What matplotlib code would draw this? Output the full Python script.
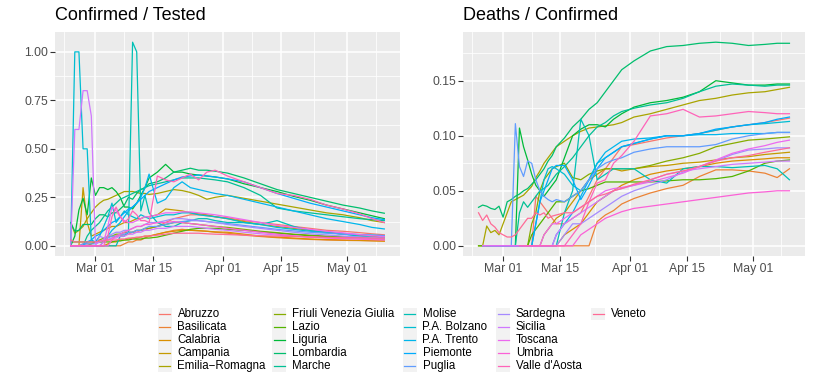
import numpy as np
import matplotlib
matplotlib.use("Agg")
import matplotlib.pyplot as plt
import matplotlib.dates as mdates
from matplotlib.lines import Line2D
from matplotlib.patches import Rectangle
from datetime import date
import math

nan = np.nan

dates = ["2020-02-24", "2020-02-25", "2020-02-26", "2020-02-27", "2020-02-28", "2020-02-29",
         "2020-03-01", "2020-03-02", "2020-03-03", "2020-03-04", "2020-03-05", "2020-03-06",
         "2020-03-07", "2020-03-08", "2020-03-09", "2020-03-10", "2020-03-11", "2020-03-12",
         "2020-03-13", "2020-03-14",
         "2020-03-16", "2020-03-18", "2020-03-20", "2020-03-22", "2020-03-24", "2020-03-26",
         "2020-03-28", "2020-03-30",
         "2020-04-02", "2020-04-06", "2020-04-10", "2020-04-14", "2020-04-18", "2020-04-22",
         "2020-04-26", "2020-04-30", "2020-05-04", "2020-05-07", "2020-05-10"]

regions = ["Abruzzo", "Basilicata", "Calabria", "Campania", "Emilia\u2212Romagna",
           "Friuli Venezia Giulia", "Lazio", "Liguria", "Lombardia", "Marche",
           "Molise", "P.A. Bolzano", "P.A. Trento", "Piemonte", "Puglia",
           "Sardegna", "Sicilia", "Toscana", "Umbria", "Valle d'Aosta", "Veneto"]

# ---------------- Confirmed / Tested ----------------
ct_abruzzo = [0, 0, 0, 0.01, 0.01, 0.01, 0.02, 0.02, 0.03, 0.03, 0.04, 0.05, 0.05, 0.06, 0.06, 0.07, 0.07, 0.08, 0.08, 0.09,
              0.10, 0.12, 0.14, 0.15, 0.16, 0.16, 0.155, 0.15,
              0.145, 0.13, 0.12, 0.11, 0.10, 0.09, 0.08, 0.075, 0.068, 0.062, 0.057]
ct_basilicata = [0, 0, 0, 0, 0, 0, 0, 0, 0, 0, 0, 0, 0, 0.01, 0.02, 0.02, 0.03, 0.03, 0.04, 0.05,
                 0.06, 0.07, 0.08, 0.085, 0.08, 0.078, 0.075, 0.07,
                 0.065, 0.055, 0.048, 0.042, 0.037, 0.033, 0.03, 0.028, 0.027, 0.026, 0.025]
ct_calabria = [0, 0, 0, 0, 0, 0, 0, 0, 0, 0.01, 0.02, 0.02, 0.03, 0.03, 0.035, 0.04, 0.04, 0.045, 0.05, 0.05,
               0.06, 0.07, 0.075, 0.08, 0.08, 0.078, 0.075, 0.072,
               0.07, 0.06, 0.05, 0.045, 0.04, 0.035, 0.032, 0.03, 0.028, 0.026, 0.024]
ct_campania = [0, 0, 0, 0.30, 0.12, 0.05, 0.06, 0.07, 0.08, 0.09, 0.10, 0.10, 0.11, 0.12, 0.12, 0.13, 0.14, 0.14, 0.15, 0.15,
               0.16, 0.19, 0.185, 0.18, 0.17, 0.165, 0.16, 0.15,
               0.14, 0.125, 0.11, 0.10, 0.09, 0.08, 0.07, 0.06, 0.055, 0.05, 0.046]
ct_emilia = [0.12, 0.065, 0.08, 0.10, 0.14, 0.17, 0.20, 0.22, 0.235, 0.24, 0.25, 0.26, 0.27, 0.28, 0.28, 0.28, 0.275, 0.27, 0.27, 0.265,
             0.27, 0.28, 0.29, 0.285, 0.275, 0.26, 0.24, 0.25,
             0.26, 0.245, 0.23, 0.215, 0.20, 0.185, 0.17, 0.16, 0.145, 0.13, 0.12]
ct_fvg = [0, 0, 0, 0, 0, 0.01, 0.02, 0.03, 0.04, 0.05, 0.05, 0.06, 0.06, 0.07, 0.07, 0.07, 0.08, 0.08, 0.09, 0.09,
          0.10, 0.11, 0.12, 0.12, 0.115, 0.11, 0.105, 0.10,
          0.095, 0.085, 0.075, 0.068, 0.06, 0.055, 0.05, 0.047, 0.044, 0.042, 0.04]
ct_lazio = [0.02, 0.02, 0.02, 0.02, 0.02, 0.02, 0.02, 0.02, 0.02, 0.02, 0.02, 0.025, 0.025, 0.03, 0.03, 0.035, 0.035, 0.035, 0.04, 0.04,
            0.045, 0.055, 0.065, 0.075, 0.085, 0.09, 0.09, 0.09,
            0.085, 0.08, 0.072, 0.065, 0.058, 0.052, 0.047, 0.043, 0.04, 0.037, 0.034]
ct_liguria = [0, 0.05, 0.185, 0.245, 0.16, 0.35, 0.26, 0.30, 0.30, 0.29, 0.30, 0.28, 0.25, 0.20, 0.20, 0.19, 0.22, 0.26, 0.30, 0.35,
              0.38, 0.42, 0.38, 0.38, 0.37, 0.365, 0.36, 0.355,
              0.345, 0.32, 0.30, 0.28, 0.255, 0.235, 0.21, 0.19, 0.17, 0.155, 0.14]
ct_lombardia = [0.12, 0.075, 0.08, 0.11, 0.11, 0.11, 0.14, 0.16, 0.16, 0.15, 0.17, 0.17, 0.19, 0.21, 0.25, 0.24, 0.27, 0.29, 0.30, 0.32,
                0.33, 0.35, 0.38, 0.39, 0.40, 0.39, 0.39, 0.385,
                0.375, 0.35, 0.32, 0.29, 0.27, 0.25, 0.23, 0.21, 0.195, 0.18, 0.168]
ct_marche = [0, 0, 0, 0, 0.05, 0.08, 0.10, 0.12, 0.15, 0.18, 0.20, 0.22, 0.24, 0.25, 0.26, 0.27, 0.28, 0.29, 0.30, 0.31,
             0.32, 0.33, 0.34, 0.35, 0.35, 0.35, 0.345, 0.34,
             0.33, 0.30, 0.26, 0.195, 0.18, 0.17, 0.16, 0.15, 0.14, 0.135, 0.13]
ct_molise = [0, 0, 0, 0, 0, 0, 0, 0, 0, 0, 0, 0, 0.05, 0.05, 0.07, 1.05, 1.00, 0.18, 0.26, 0.17,
             0.12, 0.10, 0.10, 0.12, 0.13, 0.14, 0.14, 0.13,
             0.12, 0.12, 0.11, 0.13, 0.10, 0.08, 0.07, 0.06, 0.05, 0.045, 0.04]
ct_bolzano = [0, 1.00, 1.00, 0.50, 0.50, 0.03, 0.02, 0.05, 0.10, 0.15, 0.22, 0.12, 0.15, 0.18, 0.16, 0.15, 0.14, 0.16, 0.15, 0.14,
              0.15, 0.16, 0.16, 0.17, 0.17, 0.16, 0.155, 0.15,
              0.14, 0.12, 0.11, 0.095, 0.085, 0.075, 0.068, 0.062, 0.058, 0.055, 0.052]
ct_trento = [0, 0, 0, 0, 0, 0, 0, 0, 0.02, 0.05, 0.08, 0.10, 0.12, 0.15, 0.18, 0.20, 0.22, 0.25, 0.30, 0.37,
             0.22, 0.24, 0.30, 0.33, 0.30, 0.29, 0.28, 0.27,
             0.26, 0.24, 0.22, 0.20, 0.18, 0.16, 0.14, 0.125, 0.11, 0.095, 0.087]
ct_piemonte = [0, 0, 0, 0, 0.02, 0.03, 0.05, 0.06, 0.08, 0.10, 0.12, 0.13, 0.15, 0.17, 0.19, 0.20, 0.22, 0.24, 0.26, 0.28,
               0.30, 0.32, 0.34, 0.355, 0.36, 0.365, 0.36, 0.355,
               0.345, 0.33, 0.30, 0.27, 0.245, 0.22, 0.20, 0.18, 0.16, 0.145, 0.135]
ct_puglia = [0, 0, 0, 0.01, 0.01, 0.01, 0.01, 0.02, 0.03, 0.04, 0.05, 0.05, 0.06, 0.06, 0.07, 0.07, 0.08, 0.08, 0.09, 0.10,
             0.10, 0.11, 0.12, 0.125, 0.13, 0.13, 0.125, 0.12,
             0.115, 0.105, 0.095, 0.085, 0.077, 0.07, 0.065, 0.06, 0.057, 0.055, 0.053]
ct_sardegna = [0, 0, 0, 0, 0, 0, 0, 0.05, 0.04, 0.05, 0.06, 0.07, 0.07, 0.08, 0.08, 0.09, 0.10, 0.10, 0.11, 0.12,
               0.12, 0.13, 0.14, 0.14, 0.135, 0.13, 0.125, 0.12,
               0.11, 0.10, 0.09, 0.08, 0.07, 0.062, 0.056, 0.05, 0.046, 0.043, 0.04]
ct_sicilia = [0, 0.60, 0.60, 0.80, 0.80, 0.67, 0.01, 0.02, 0.03, 0.03, 0.04, 0.04, 0.05, 0.05, 0.06, 0.06, 0.07, 0.07, 0.08, 0.08,
              0.09, 0.09, 0.10, 0.10, 0.10, 0.095, 0.09, 0.085,
              0.08, 0.07, 0.062, 0.055, 0.05, 0.045, 0.042, 0.04, 0.038, 0.036, 0.035]
ct_toscana = [0, 0, 0, 0, 0, 0, 0, 0, 0.02, 0.10, 0.20, 0.18, 0.15, 0.13, 0.12, 0.12, 0.13, 0.14, 0.15, 0.15,
              0.16, 0.17, 0.17, 0.175, 0.175, 0.17, 0.165, 0.16,
              0.15, 0.135, 0.12, 0.105, 0.095, 0.085, 0.075, 0.067, 0.058, 0.052, 0.047]
ct_umbria = [0, 0, 0, 0, 0, 0, 0, 0, 0, 0, 0.03, 0.05, 0.06, 0.07, 0.08, 0.09, 0.10, 0.10, 0.11, 0.11,
             0.12, 0.12, 0.125, 0.12, 0.115, 0.11, 0.105, 0.10,
             0.09, 0.08, 0.07, 0.06, 0.052, 0.045, 0.04, 0.037, 0.034, 0.032, 0.03]
ct_vda = [0, 0, 0, 0, 0, 0, 0, 0, 0, 0.05, 0.15, 0.20, 0.15, 0.12, 0.14, 0.18, 0.16, 0.13, 0.13, 0.12,
          0.36, 0.34, 0.33, 0.35, 0.37, 0.34, 0.38, 0.39,
          0.36, 0.33, 0.30, 0.27, 0.26, 0.24, 0.21, 0.19, 0.165, 0.14, 0.12]
ct_veneto = [0.03, 0.02, 0.02, 0.02, 0.02, 0.02, 0.02, 0.025, 0.025, 0.03, 0.03, 0.03, 0.035, 0.035, 0.04, 0.04, 0.045, 0.045, 0.05, 0.05,
             0.055, 0.06, 0.065, 0.065, 0.065, 0.065, 0.062, 0.06,
             0.058, 0.055, 0.052, 0.05, 0.048, 0.046, 0.044, 0.042, 0.041, 0.04, 0.039]

# ---------------- Deaths / Confirmed ----------------
dc_abruzzo = [nan, nan, nan, 0, 0, 0, 0, 0, 0, 0, 0, 0, 0, 0, 0.045, 0.04, 0.035, 0.03, 0.025, 0.02,
              0.02, 0.025, 0.03, 0.045, 0.06, 0.07, 0.08, 0.09,
              0.092, 0.095, 0.098, 0.10, 0.102, 0.105, 0.108, 0.11, 0.112, 0.114, 0.116]
dc_basilicata = [nan, nan, nan, nan, nan, nan, nan, nan, nan, 0, 0, 0, 0, 0, 0, 0, 0, 0, 0, 0,
                 0, 0, 0, 0, 0.022, 0.028, 0.032, 0.038,
                 0.043, 0.048, 0.052, 0.055, 0.063, 0.069, 0.069, 0.068, 0.066, 0.062, 0.07]
dc_calabria = [nan, nan, nan, nan, nan, nan, nan, nan, nan, nan, 0, 0, 0, 0, 0, 0, 0, 0, 0, 0,
               0.01, 0.015, 0.02, 0.03, 0.04, 0.045, 0.05, 0.055,
               0.06, 0.065, 0.068, 0.07, 0.072, 0.075, 0.077, 0.078, 0.079, 0.08, 0.08]
dc_campania = [nan, nan, nan, 0, 0, 0, 0, 0, 0, 0, 0, 0, 0, 0, 0, 0, 0.01, 0.015, 0.02, 0.025,
               0.03, 0.04, 0.05, 0.06, 0.065, 0.07, 0.07, 0.068,
               0.07, 0.072, 0.073, 0.075, 0.076, 0.078, 0.08, 0.081, 0.083, 0.084, 0.085]
dc_emilia = [0, 0, 0.018, 0.012, 0.014, 0.01, 0.02, 0.03, 0.04, 0.042, 0.044, 0.046, 0.05, 0.054, 0.062, 0.068, 0.075, 0.08, 0.085, 0.09,
             0.095, 0.10, 0.104, 0.107, 0.108, 0.109, 0.11, 0.112,
             0.117, 0.12, 0.124, 0.128, 0.132, 0.134, 0.137, 0.139, 0.14, 0.142, 0.144]
dc_fvg = [nan, nan, nan, nan, nan, 0, 0, 0, 0, 0, 0, 0, 0, 0.02, 0.03, 0.05, 0.06, 0.065, 0.07, 0.072,
          0.075, 0.062, 0.06, 0.065, 0.068, 0.07, 0.07, 0.07,
          0.07, 0.073, 0.077, 0.08, 0.084, 0.09, 0.093, 0.096, 0.097, 0.098, 0.099]
dc_lazio = [0, 0, 0, 0, 0, 0, 0, 0, 0, 0, 0, 0, 0, 0.01, 0.015, 0.02, 0.025, 0.03, 0.035, 0.04,
            0.04, 0.045, 0.05, 0.052, 0.055, 0.058, 0.058, 0.058,
            0.058, 0.058, 0.059, 0.06, 0.06, 0.061, 0.063, 0.068, 0.075, 0.077, 0.078]
dc_liguria = [nan, 0, 0, 0, 0, 0, 0, 0, 0, 0, 0.107, 0.09, 0.078, 0.065, 0.055, 0.05, 0.045, 0.05, 0.055, 0.06,
              0.08, 0.10, 0.106, 0.11, 0.11, 0.108, 0.115, 0.12,
              0.126, 0.13, 0.132, 0.135, 0.14, 0.15, 0.148, 0.146, 0.146, 0.147, 0.147]
dc_lombardia = [0.035, 0.037, 0.036, 0.034, 0.033, 0.036, 0.026, 0.04, 0.042, 0.045, 0.047, 0.05, 0.052, 0.056, 0.06, 0.065, 0.07, 0.077, 0.082, 0.09,
                0.098, 0.108, 0.115, 0.124, 0.13, 0.14, 0.15, 0.16,
                0.168, 0.177, 0.181, 0.182, 0.184, 0.185, 0.184, 0.182, 0.183, 0.184, 0.184]
dc_marche = [nan, nan, 0, 0, 0, 0, 0, 0, 0, 0, 0.03, 0.04, 0.035, 0.04, 0.045, 0.05, 0.052, 0.055, 0.06, 0.065,
             0.072, 0.08, 0.09, 0.10, 0.108, 0.112, 0.118, 0.122,
             0.125, 0.128, 0.13, 0.134, 0.14, 0.145, 0.147, 0.146, 0.145, 0.146, 0.146]
dc_molise = [nan, nan, nan, nan, nan, nan, nan, nan, nan, nan, nan, nan, 0, 0, 0, 0, 0, 0, 0, 0,
             0.03, 0.05, 0.115, 0.10, 0.06, 0.065, 0.07, 0.07,
             0.07, 0.06, 0.057, 0.07, 0.072, 0.072, 0.071, 0.072, 0.073, 0.07, 0.06]
dc_bolzano = [nan, 0, 0, 0, 0, 0, 0, 0, 0, 0, 0, 0, 0, 0, 0.02, 0.04, 0.06, 0.07, 0.072, 0.07,
              0.065, 0.055, 0.05, 0.06, 0.075, 0.08, 0.085, 0.09,
              0.093, 0.097, 0.10, 0.10, 0.102, 0.105, 0.108, 0.11, 0.111, 0.112, 0.113]
dc_trento = [nan, nan, nan, nan, nan, nan, nan, nan, nan, 0, 0, 0, 0, 0, 0, 0, 0, 0, 0, 0.01,
             0.02, 0.03, 0.045, 0.06, 0.075, 0.085, 0.09, 0.095,
             0.097, 0.098, 0.10, 0.10, 0.101, 0.101, 0.102, 0.102, 0.102, 0.103, 0.103]
dc_piemonte = [nan, nan, nan, 0, 0, 0, 0, 0, 0, 0, 0, 0, 0, 0, 0.02, 0.04, 0.05, 0.06, 0.07, 0.073,
               0.073, 0.06, 0.042, 0.055, 0.07, 0.08, 0.085, 0.09,
               0.093, 0.097, 0.10, 0.10, 0.102, 0.106, 0.108, 0.11, 0.112, 0.115, 0.117]
dc_puglia = [nan, nan, nan, 0, 0, 0, 0, 0, 0, 0.111, 0.072, 0.063, 0.077, 0.075, 0.06, 0.05, 0.045, 0.042, 0.04, 0.042,
             0.04, 0.045, 0.05, 0.06, 0.07, 0.075, 0.078, 0.08,
             0.085, 0.088, 0.09, 0.09, 0.09, 0.092, 0.097, 0.10, 0.102, 0.103, 0.103]
dc_sardegna = [nan, nan, nan, nan, nan, nan, nan, nan, 0, 0, 0, 0, 0, 0, 0, 0, 0, 0, 0, 0,
               0.01, 0.02, 0.02, 0.025, 0.03, 0.035, 0.04, 0.045,
               0.05, 0.055, 0.06, 0.067, 0.072, 0.077, 0.083, 0.087, 0.088, 0.089, 0.089]
dc_sicilia = [nan, 0, 0, 0, 0, 0, 0, 0, 0, 0, 0, 0, 0, 0, 0, 0, 0, 0, 0, 0.01,
              0.02, 0.025, 0.03, 0.035, 0.04, 0.045, 0.05, 0.052,
              0.055, 0.06, 0.065, 0.068, 0.07, 0.072, 0.074, 0.075, 0.076, 0.077, 0.077]
dc_toscana = [nan, 0, 0, 0, 0, 0, 0, 0, 0, 0, 0, 0, 0, 0, 0, 0, 0.01, 0.015, 0.02, 0.02,
              0.025, 0.03, 0.035, 0.04, 0.045, 0.05, 0.052, 0.053,
              0.055, 0.058, 0.062, 0.066, 0.072, 0.078, 0.084, 0.088, 0.091, 0.094, 0.096]
dc_umbria = [nan, nan, nan, nan, nan, nan, nan, nan, nan, nan, nan, 0, 0, 0, 0, 0, 0, 0, 0, 0,
             0, 0, 0.01, 0.015, 0.02, 0.025, 0.028, 0.031,
             0.034, 0.036, 0.038, 0.04, 0.042, 0.044, 0.046, 0.048, 0.049, 0.05, 0.05]
dc_vda = [nan, nan, nan, nan, nan, nan, nan, nan, nan, nan, 0, 0, 0, 0, 0, 0, 0, 0, 0, 0,
          0, 0.01, 0.02, 0.04, 0.057, 0.06, 0.075, 0.082,
          0.095, 0.118, 0.12, 0.124, 0.117, 0.118, 0.12, 0.122, 0.121, 0.12, 0.12]
dc_veneto = [0.03, 0.023, 0.028, 0.02, 0.017, 0.012, 0.01, 0.008, 0.008, 0.01, 0.015, 0.02, 0.025, 0.025, 0.03, 0.028, 0.03, 0.025, 0.027, 0.028,
             0.03, 0.03, 0.035, 0.04, 0.045, 0.047, 0.05, 0.052,
             0.056, 0.06, 0.065, 0.068, 0.072, 0.077, 0.08, 0.082, 0.085, 0.087, 0.089]

ct_series = [ct_abruzzo, ct_basilicata, ct_calabria, ct_campania, ct_emilia, ct_fvg, ct_lazio,
             ct_liguria, ct_lombardia, ct_marche, ct_molise, ct_bolzano, ct_trento, ct_piemonte,
             ct_puglia, ct_sardegna, ct_sicilia, ct_toscana, ct_umbria, ct_vda, ct_veneto]
dc_series = [dc_abruzzo, dc_basilicata, dc_calabria, dc_campania, dc_emilia, dc_fvg, dc_lazio,
             dc_liguria, dc_lombardia, dc_marche, dc_molise, dc_bolzano, dc_trento, dc_piemonte,
             dc_puglia, dc_sardegna, dc_sicilia, dc_toscana, dc_umbria, dc_vda, dc_veneto]

xtick_dates = ["2020-03-01", "2020-03-15", "2020-04-01", "2020-04-15", "2020-05-01"]
xtick_labels = ["Mar 01", "Mar 15", "Apr 01", "Apr 15", "May 01"]
ct_ticks = [0.00, 0.25, 0.50, 0.75, 1.00]
dc_ticks = [0.00, 0.05, 0.10, 0.15]


# ---------- ggplot2 hue palette (HCL -> sRGB) ----------
def hcl_hex(h, c=100.0, l=65.0):
    WY, Wu, Wv = 100.0, 0.1978398, 0.4683363
    hr = math.radians(h)
    U, V = c * math.cos(hr), c * math.sin(hr)
    Y = WY * ((l + 16) / 116) ** 3 if l > 7.999592 else WY * l / 903.3
    u = U / (13 * l) + Wu
    v = V / (13 * l) + Wv
    X = 9.0 * Y * u / (4 * v)
    Z = -X / 3 - 5 * Y + 3 * Y / v
    def g(t):
        return 1.055 * t ** (1 / 2.4) - 0.055 if t > 0.00304 else 12.92 * t
    r = g((3.240479 * X - 1.537150 * Y - 0.498535 * Z) / WY)
    gg = g((-0.969256 * X + 1.875992 * Y + 0.041556 * Z) / WY)
    b = g((0.055648 * X - 0.204043 * Y + 1.057311 * Z) / WY)
    return tuple(min(1, max(0, x)) for x in (r, gg, b))


n = len(regions)
hues = np.linspace(15, 375 - 360 / n, n)
colors = [hcl_hex(h % 360) for h in hues]

plt.rcParams["font.family"] = ["Liberation Sans", "DejaVu Sans"]

W, H = 814, 380
fig = plt.figure(figsize=(W / 100, H / 100), dpi=100)

x = mdates.date2num([date.fromisoformat(d) for d in dates])
x0, x1 = x[0], x[-1]
pad = (x1 - x0) * 0.05
xt = mdates.date2num([date.fromisoformat(d) for d in xtick_dates])
xminor = [xt[0] - 7.5, (xt[0] + xt[1]) / 2, (xt[1] + xt[2]) / 2, (xt[2] + xt[3]) / 2,
          (xt[3] + xt[4]) / 2, xt[4] + 7]


def style_axes(ax, yticks, ylim, yminor, fmt):
    ax.set_facecolor("#EBEBEB")
    for s in ax.spines.values():
        s.set_visible(False)
    ax.set_xlim(x0 - pad, x1 + pad)
    ax.set_ylim(*ylim)
    ax.set_xticks(xt)
    ax.set_xticklabels(xtick_labels)
    ax.set_xticks(xminor, minor=True)
    ax.set_yticks(yticks)
    ax.set_yticklabels([fmt.format(t) for t in yticks])
    ax.set_yticks(yminor, minor=True)
    ax.grid(which="major", color="white", linewidth=1.1)
    ax.grid(which="minor", color="white", linewidth=0.55)
    ax.set_axisbelow(True)
    ax.tick_params(which="major", length=3.3, width=0.8, color="#333333",
                   labelsize=8.8, labelcolor="#4D4D4D", pad=1.5)
    ax.tick_params(which="minor", length=0)


def panel(left, right):
    return [left / W, (H - 256) / H, (right - left) / W, 224 / H]


ax1 = fig.add_axes(panel(55, 400))
ct_max = np.nanmax([np.nanmax(s) for s in ct_series])
style_axes(ax1, ct_ticks, (-0.05 * ct_max, 1.05 * ct_max),
           [0.125, 0.375, 0.625, 0.875], "{:.2f}")
for s, c in zip(ct_series, colors):
    ax1.plot(x, s, color=c, linewidth=0.9)

ax2 = fig.add_axes(panel(463, 805))
dc_max = np.nanmax([np.nanmax(s) for s in dc_series])
style_axes(ax2, dc_ticks, (-0.05 * dc_max, 1.05 * dc_max),
           [0.025, 0.075, 0.125, 0.175], "{:.2f}")
for s, c in zip(dc_series, colors):
    ax2.plot(x, s, color=c, linewidth=0.9)

fig.text(55 / W, 1 - 20.5 / H, "Confirmed / Tested", fontsize=13, va="baseline", ha="left")
fig.text(463 / W, 1 - 20.5 / H, "Deaths / Confirmed", fontsize=13, va="baseline", ha="left")

# ---------- legend ----------
col_key_x = [157.5, 272.0, 402.5, 496.0, 591.0]
row_y0, row_dy = 314.0, 12.95
key_w, key_h = 14.0, 12.95
for i, (name, c) in enumerate(zip(regions, colors)):
    col, row = i // 5, i % 5
    kx = col_key_x[col]
    cy = row_y0 + row * row_dy
    fig.patches.append(Rectangle((kx / W, 1 - (cy + key_h / 2) / H), key_w / W, key_h / H,
                                 transform=fig.transFigure, facecolor="#F2F2F2",
                                 edgecolor="none", zorder=1))
    fig.lines.append(Line2D([(kx + 1.5) / W, (kx + 12.5) / W], [1 - cy / H, 1 - cy / H],
                            transform=fig.transFigure, color=c, linewidth=0.9, zorder=2))
    fig.text((kx + 20) / W, 1 - cy / H, name, fontsize=8.3, va="center", ha="left")

fig.savefig("out.png", dpi=100)
